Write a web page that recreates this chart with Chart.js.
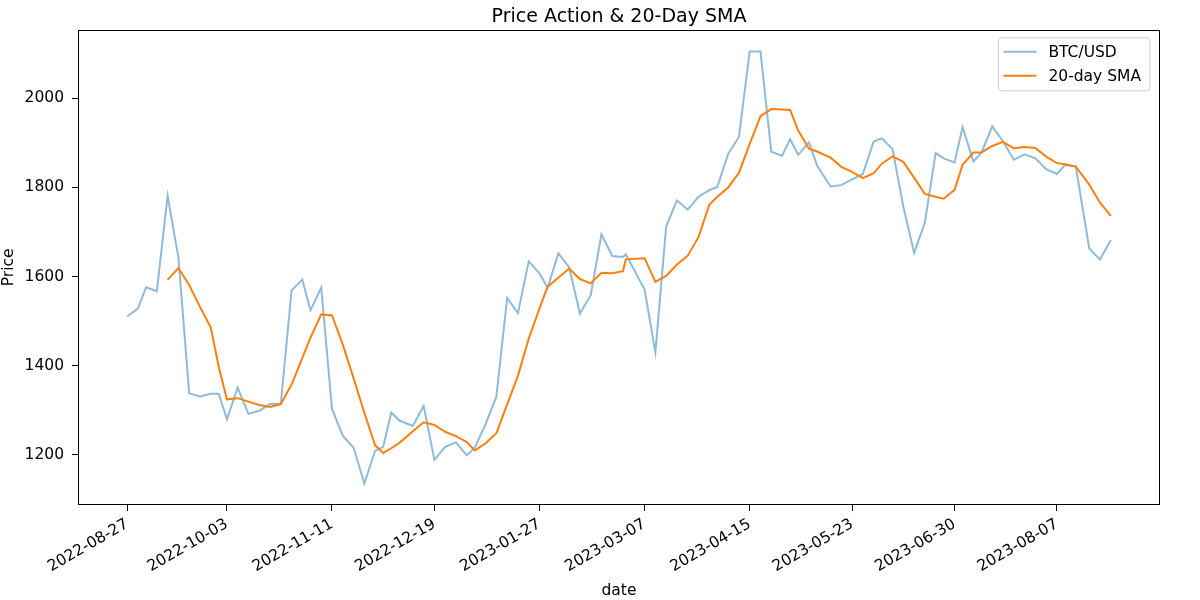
<!DOCTYPE html>
<html><head><meta charset="utf-8">
<script src="https://cdn.jsdelivr.net/npm/chart.js@4.4.0/dist/chart.umd.min.js"></script>
<style>html,body{margin:0;padding:0;background:#fff}#wrap{width:1200px;height:600px}</style>
</head><body><div id="wrap"><canvas id="c" width="1200" height="600"></canvas></div>
<script>
const chartTitle = 'Price Action & 20-Day SMA';
const seriesNames = ['BTC/USD', '20-day SMA'];
const xAxisTitle = 'date';
const yAxisTitle = 'Price';

const dates = [
'2022-08-27','2022-08-31','2022-09-03','2022-09-07','2022-09-11','2022-09-15','2022-09-19','2022-09-23','2022-09-27','2022-09-30',
'2022-10-03','2022-10-07','2022-10-11','2022-10-15','2022-10-19','2022-10-23','2022-10-27','2022-10-31','2022-11-03','2022-11-07',
'2022-11-11','2022-11-15','2022-11-19','2022-11-23','2022-11-27','2022-11-30','2022-12-03','2022-12-06','2022-12-11','2022-12-15',
'2022-12-19','2022-12-23','2022-12-27','2022-12-31','2023-01-03','2023-01-07','2023-01-11','2023-01-15','2023-01-19','2023-01-23',
'2023-01-27','2023-01-30','2023-02-03','2023-02-07','2023-02-11','2023-02-15','2023-02-19','2023-02-23','2023-02-27','2023-02-28',
'2023-03-07','2023-03-11','2023-03-15','2023-03-19','2023-03-23','2023-03-27','2023-03-31','2023-04-03','2023-04-07','2023-04-11',
'2023-04-15','2023-04-19','2023-04-23','2023-04-27','2023-04-30','2023-05-03','2023-05-07','2023-05-10','2023-05-15','2023-05-19',
'2023-05-23','2023-05-27','2023-05-31','2023-06-03','2023-06-07','2023-06-11','2023-06-15','2023-06-19','2023-06-23','2023-06-26',
'2023-06-30','2023-07-03','2023-07-07','2023-07-10','2023-07-14','2023-07-18','2023-07-22','2023-07-26','2023-07-30','2023-08-03',
'2023-08-07','2023-08-10','2023-08-14','2023-08-19','2023-08-23','2023-08-27'
];

const btcUsd = [
1511,1528,1576,1567,1781,1643,1338,1331,1337,1337,
1280,1351,1292,1299,1314,1314,1569,1593,1524,1575,
1303,1243,1216,1136,1209,1218,1295,1277,1265,1310,
1189,1218,1228,1199,1216,1269,1331,1552,1518,1634,
1607,1575,1652,1621,1517,1558,1695,1646,1644,1650,
1571,1430,1712,1771,1750,1779,1794,1801,1875,1913,
2105,2105,1880,1871,1908,1873,1901,1849,1802,1805,
1818,1830,1903,1910,1886,1757,1653,1721,1877,1865,
1856,1935,1858,1878,1937,1903,1862,1874,1865,1841,
1830,1850,1847,1663,1638,1682
];

const sma20 = [
null,null,null,null,
1592.6,1619.0,1581.0,1532.0,1486.0,1397.2,1324.6,1327.2,1319.4,1311.8,
1307.2,1314.0,1357.6,1417.8,1462.8,1515.0,1512.8,1447.6,1372.2,1294.6,
1221.4,1204.4,1214.8,1227.0,1252.8,1273.0,1267.2,1251.8,1242.0,1228.8,
1210.0,1226.0,1248.6,1313.4,1377.2,1460.8,1528.4,1577.2,1597.2,1617.8,
1594.4,1584.6,1608.6,1607.4,1612.0,1638.6,1641.2,1588.2,1601.4,1626.8,
1646.8,1688.4,1761.2,1779.0,1799.8,1832.4,1897.6,1959.8,1975.6,1974.8,
1973.8,1927.4,1886.6,1880.4,1866.6,1846.0,1835.0,1820.8,1831.6,1853.2,
1869.4,1857.2,1821.8,1785.4,1778.8,1774.6,1794.4,1850.8,1878.2,1878.4,
1892.8,1902.2,1887.6,1890.8,1888.2,1869.0,1854.4,1852.0,1846.6,1806.2,
1765.6,1736.0
];

const xTickLabels = ['2022-08-27','2022-10-03','2022-11-11','2022-12-19','2023-01-27','2023-03-07','2023-04-15','2023-05-23','2023-06-30','2023-08-07'];
const yTickValues = [1200, 1400, 1600, 1800, 2000];

// ---- helpers ----
const DAY = 86400000;
const t0 = Date.parse(dates[0] + 'T00:00:00Z');
const dayOf = s => (Date.parse(s + 'T00:00:00Z') - t0) / DAY;
const xs = dates.map(dayOf);
const xSpan = xs[xs.length - 1] - xs[0];
const allY = btcUsd.concat(sma20.filter(v => v !== null));
const yMin = Math.min(...allY), yMax = Math.max(...allY);
const ySpan = yMax - yMin;

const FONT = "'DejaVu Sans', sans-serif";
const blue = 'rgba(31,119,180,0.5)';
const orange = '#ff7f0e';

const framePlugin = {
  id: 'frameAndLegend',
  afterDraw(chart) {
    const ctx = chart.ctx, a = chart.chartArea;
    ctx.save();
    ctx.strokeStyle = '#000';
    ctx.lineWidth = 1;
    ctx.strokeRect(Math.round(a.left) + 0.5, Math.round(a.top) + 0.5,
                   Math.round(a.right - a.left) - 1, Math.round(a.bottom - a.top) - 1);
    // legend
    ctx.font = '15.5px ' + FONT;
    const items = chart.data.datasets.map(d => ({label: d.label, color: d.borderColor}));
    const textW = Math.max(...items.map(i => ctx.measureText(i.label).width));
    const w = 50 + textW + 9;
    const h = 53;
    const right = a.right - 10, top = a.top + 8;
    const left = right - w;
    const r = 3;
    ctx.beginPath();
    ctx.moveTo(left + r, top);
    ctx.lineTo(right - r, top); ctx.quadraticCurveTo(right, top, right, top + r);
    ctx.lineTo(right, top + h - r); ctx.quadraticCurveTo(right, top + h, right - r, top + h);
    ctx.lineTo(left + r, top + h); ctx.quadraticCurveTo(left, top + h, left, top + h - r);
    ctx.lineTo(left, top + r); ctx.quadraticCurveTo(left, top, left + r, top);
    ctx.closePath();
    ctx.fillStyle = 'rgba(255,255,255,0.8)';
    ctx.fill();
    ctx.strokeStyle = '#d0d0d0';
    ctx.stroke();
    items.forEach((it, i) => {
      const cy = top + 14 + i * 24;
      ctx.strokeStyle = it.color;
      ctx.lineWidth = 2;
      ctx.beginPath();
      ctx.moveTo(left + 5, cy); ctx.lineTo(left + 38, cy);
      ctx.stroke();
      ctx.fillStyle = '#000';
      ctx.textBaseline = 'middle';
      ctx.textAlign = 'left';
      ctx.fillText(it.label, left + 50, cy + 1);
    });
    ctx.restore();
  }
};

new Chart(document.getElementById('c'), {
  type: 'line',
  data: {
    datasets: [
      { label: seriesNames[0], data: xs.map((x, i) => ({x, y: btcUsd[i]})),
        borderColor: blue, backgroundColor: blue, borderWidth: 2, pointRadius: 0, tension: 0, order: 1 },
      { label: seriesNames[1], data: xs.map((x, i) => ({x, y: sma20[i]})),
        borderColor: orange, backgroundColor: orange, borderWidth: 2, pointRadius: 0, tension: 0, order: 0, spanGaps: false }
    ]
  },
  options: {
    responsive: false,
    animation: false,
    devicePixelRatio: 1,
    layout: { padding: { left: 0, right: 40, top: 0, bottom: 0 } },
    plugins: {
      legend: { display: false },
      tooltip: { enabled: false },
      title: { display: true, text: chartTitle, fullSize: false, color: '#000',
               font: { family: FONT, size: 19, weight: 'normal' }, padding: { top: 6, bottom: 1 } }
    },
    scales: {
      x: {
        type: 'linear',
        min: xs[0] - 0.05 * xSpan,
        max: xs[xs.length - 1] + 0.05 * xSpan,
        afterBuildTicks: s => { s.ticks = xTickLabels.map(l => ({ value: dayOf(l) })); },
        afterFit: s => { s.height = 95; },
        ticks: {
          autoSkip: false, minRotation: 30, maxRotation: 30, color: '#000', padding: 4,
          font: { family: FONT, size: 15.5 },
          callback: (v, i) => xTickLabels[i]
        },
        grid: { display: true, drawOnChartArea: false, drawTicks: true, tickLength: 6, color: '#000' },
        border: { display: false },
        title: { display: true, text: xAxisTitle, color: '#000', font: { family: FONT, size: 15.5 }, padding: { top: 0, bottom: 0 } }
      },
      y: {
        type: 'linear',
        min: yMin - 0.05 * ySpan,
        max: yMax + 0.05 * ySpan,
        afterBuildTicks: s => { s.ticks = yTickValues.map(v => ({ value: v })); },
        afterFit: s => { s.width = 78; },
        ticks: { color: '#000', padding: 8, font: { family: FONT, size: 15.5 }, callback: v => String(v) },
        grid: { display: true, drawOnChartArea: false, drawTicks: true, tickLength: 6, color: '#000' },
        border: { display: false },
        title: { display: true, text: yAxisTitle, color: '#000', font: { family: FONT, size: 15.5 }, padding: { top: 0, bottom: 0 } }
      }
    }
  },
  plugins: [framePlugin]
});
</script>
</body></html>
